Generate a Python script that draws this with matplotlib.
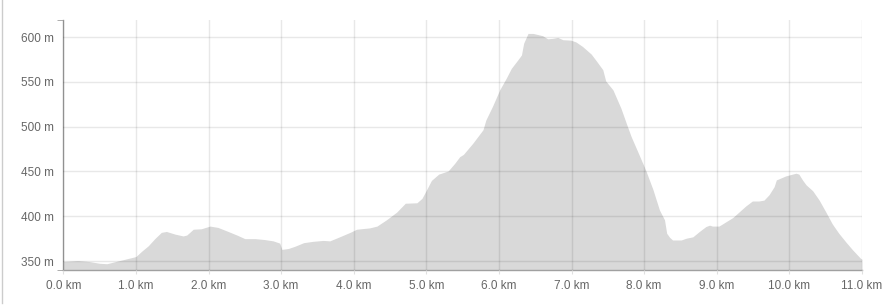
import matplotlib
matplotlib.use('agg')
import matplotlib.pyplot as plt
from matplotlib.lines import Line2D
from matplotlib.ticker import FixedLocator

# elevation profile
dist_km = [0.0, 0.2, 0.35, 0.5, 0.6, 0.7, 0.85, 1.0, 1.08, 1.17, 1.26, 1.35, 1.42,
           1.54, 1.65, 1.7, 1.79, 1.9, 2.02, 2.13, 2.27, 2.39, 2.5, 2.64, 2.77, 2.89,
           2.98, 3.01, 3.1, 3.19, 3.31, 3.44, 3.58, 3.67, 3.79, 3.95, 4.04, 4.22, 4.32,
           4.45, 4.59, 4.71, 4.87, 4.94, 5.0, 5.07, 5.17, 5.3, 5.39, 5.46, 5.51, 5.64,
           5.78, 5.82, 5.91, 6.01, 6.1, 6.17, 6.26, 6.31, 6.34, 6.4, 6.47, 6.6, 6.67,
           6.74, 6.81, 6.88, 6.99, 7.06, 7.15, 7.27, 7.34, 7.43, 7.47, 7.57, 7.68, 7.77,
           7.82, 7.93, 8.02, 8.12, 8.21, 8.28, 8.31, 8.35, 8.39, 8.51, 8.58, 8.67, 8.76,
           8.85, 8.9, 8.94, 9.03, 9.13, 9.22, 9.31, 9.4, 9.49, 9.58, 9.65, 9.72, 9.79,
           9.82, 9.95, 10.09, 10.13, 10.18, 10.23, 10.32, 10.41, 10.5, 10.59, 10.68,
           10.78, 10.87, 10.98, 11.0]
elev_m = [349.5, 350.5, 349.5, 347.5, 347, 349, 352, 355, 361, 367, 375, 382, 383,
          380, 378, 379, 385.5, 386, 389, 387.5, 383, 379, 375, 375, 374, 372.5,
          370, 363, 364, 366.5, 370.5, 372, 373, 372.5, 376.5, 382, 385.5, 387, 389,
          396, 404.5, 414.5, 415, 420, 429, 440, 447, 450.5, 459, 466.5, 469, 481.5,
          496.5, 507.5, 522.5, 541, 554, 565, 574.5, 580, 593, 604, 604, 601.5, 598,
          598.5, 599.5, 597, 596.5, 594.5, 589.5, 581, 573.5, 563.5, 551, 541, 520.5, 500,
          489, 468.5, 451.5, 430, 407, 396, 381, 376.5, 373.5, 373.5, 375.5, 377, 383,
          388.5, 390, 389, 389, 394, 398.5, 405, 411.5, 417, 417, 418, 424, 433,
          440.5, 445, 448, 447, 440.5, 435, 428.5, 418, 405, 391.5, 381, 371, 362.5,
          353, 352]

x_ticks = [0, 1, 2, 3, 4, 5, 6, 7, 8, 9, 10, 11]
y_ticks = [350, 400, 450, 500, 550, 600]

plt.rcParams['font.family'] = ['Liberation Sans', 'DejaVu Sans']

fig = plt.figure(figsize=(8.95, 3.06), dpi=100)
ax = fig.add_axes([63.3 / 895, 36 / 306, (862 - 63.3) / 895, 250 / 306])

ax.fill_between(dist_km, elev_m, 340, color='#d9d9d9', lw=0, zorder=1)
ax.set_xlim(0, 11)
ax.set_ylim(340, 619)

ax.set_xticks(x_ticks)
ax.set_xticklabels(['%.1f km' % v for v in x_ticks])
ax.set_yticks(y_ticks)
ax.set_yticklabels(['%d m' % v for v in y_ticks])
ax.yaxis.set_minor_locator(FixedLocator([340, 619]))

ax.grid(True, color='black', alpha=0.09, lw=1, zorder=2)
ax.set_axisbelow(False)
ax.tick_params(axis='x', length=3, color='#e0e0e0', labelsize=8.5, labelcolor='#666666', pad=4)
ax.tick_params(axis='y', length=0, labelsize=8.5, labelcolor='#666666', pad=6.5)
ax.tick_params(axis='y', which='minor', length=4, color='#a0a0a0')

for s in ['top', 'right']:
    ax.spines[s].set_visible(False)
for s in ['left', 'bottom']:
    ax.spines[s].set_color('#a0a0a0')
    ax.spines[s].set_linewidth(1)

fig.add_artist(Line2D([2.5 / 895, 2.5 / 895], [1, 3 / 306], color='#cccccc', lw=1))

fig.savefig('out.png', dpi=100)
